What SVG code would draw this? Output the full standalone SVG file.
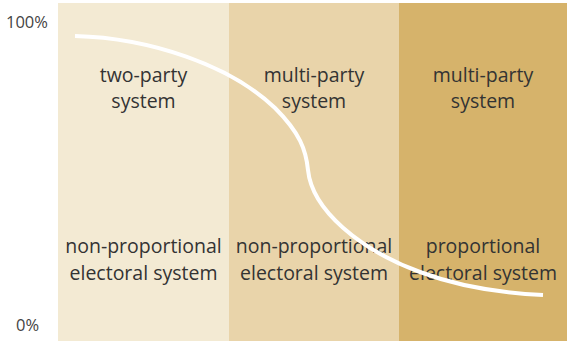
<svg xmlns="http://www.w3.org/2000/svg" width="569" height="342" viewBox="0 0 569 342">
<style>
.lbl{font-family:"Open Sans","Liberation Sans",sans-serif;font-size:19.5px;fill:#333333;text-anchor:middle}
.ax{font-family:"Open Sans","Liberation Sans",sans-serif;font-size:16.5px;fill:#444444}
.curve{fill:none;stroke:#ffffff;stroke-width:4}
</style>
<rect width="569" height="342" fill="#ffffff"/>
<g id="col-two-party">
<rect x="58" y="3" width="171" height="338" fill="#f3ead3"/>
<text class="lbl" x="143.5" y="82">two-party</text>
<text class="lbl" x="143.5" y="108">system</text>
<text class="lbl" x="143.5" y="253">non-proportional</text>
<text class="lbl" x="143.5" y="280">electoral system</text>
</g>
<g id="col-multi-nonprop">
<rect x="229" y="3" width="170" height="338" fill="#e9d4aa"/>
<text class="lbl" x="314" y="82">multi-party</text>
<text class="lbl" x="314" y="108">system</text>
<text class="lbl" x="314" y="253">non-proportional</text>
<text class="lbl" x="314" y="280">electoral system</text>
</g>
<g id="col-multi-prop">
<rect x="399" y="3" width="168" height="338" fill="#d6b36b"/>
<text class="lbl" x="483" y="82">multi-party</text>
<text class="lbl" x="483" y="108">system</text>
<text class="lbl" x="483" y="253">proportional</text>
<text class="lbl" x="483" y="280">electoral system</text>
</g>
<g id="axis">
<text class="ax" x="6" y="28">100%</text>
<text class="ax" x="16" y="331">0%</text>
</g>
<g id="connectors">
<path class="curve" d="M75,36 C150,38 230,65 275,108 C300,133 306,150 308,170 C312,210 360,250 420,272 C460,287 500,293 543,295"/>
</g>
</svg>
